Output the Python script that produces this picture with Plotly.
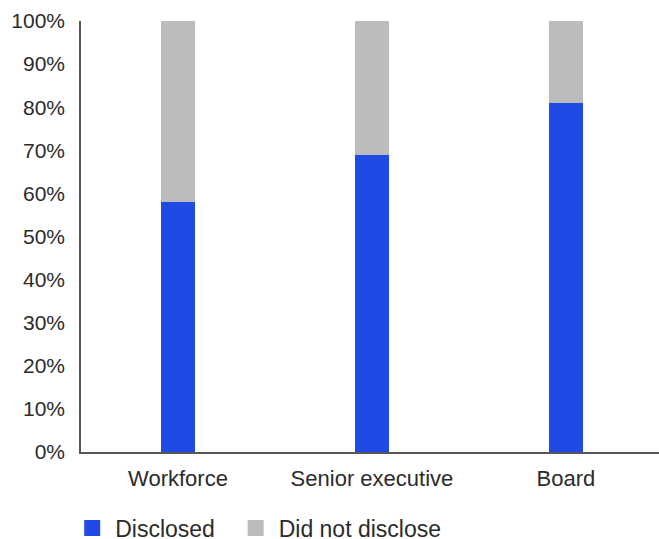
import plotly.graph_objects as go

categories = ["Workforce", "Senior executive", "Board"]
disclosed = [58, 69, 81]
did_not_disclose = [42, 31, 19]
series_names = ["Disclosed", "Did not disclose"]

blue = "#1f4ae3"
gray = "#bbbcbe"
text_color = "#2b2b2b"
axis_color = "#555555"
font_family = "Liberation Sans, Arial, sans-serif"

fig = go.Figure()
for values, name, color in [(disclosed, series_names[0], blue),
                            (did_not_disclose, series_names[1], gray)]:
    fig.add_trace(go.Bar(x=categories, y=values, name=name, showlegend=False,
                         marker=dict(color=color, line=dict(width=0)), width=0.175))

# Legend entries with larger square swatches; non-breaking spaces widen the first entry
pad = "\u00a0" * 2
for name, color in [(series_names[0] + pad, blue), (series_names[1], gray)]:
    fig.add_trace(go.Scatter(x=[None], y=[None], mode="markers", name=name,
                             marker=dict(symbol="square", size=22, color=color)))

fig.update_layout(
    barmode="stack",
    width=659, height=539,
    margin=dict(l=81, r=0, t=21, b=87),
    plot_bgcolor="white", paper_bgcolor="white",
    font=dict(family=font_family, size=21, color=text_color),
    showlegend=True,
    legend=dict(orientation="h", xref="container", x=0.105, xanchor="left",
                yref="container", y=0.06, yanchor="top",
                font=dict(size=23, color=text_color), itemwidth=36,
                tracegroupgap=0, traceorder="normal"),
    xaxis=dict(range=[-0.5, 2.48], showline=True, linecolor=axis_color, linewidth=1.5,
               ticks="", tickfont=dict(size=22), showgrid=False, zeroline=False,
               automargin=False, ticklabelstandoff=6),
    yaxis=dict(range=[0, 100], tickvals=list(range(0, 101, 10)),
               ticktext=[f"{v}%" for v in range(0, 101, 10)],
               showline=True, linecolor=axis_color, linewidth=1.5,
               ticks="", showgrid=False, zeroline=False, automargin=False,
               ticklabelstandoff=10),
)

fig.write_html("out.html")
